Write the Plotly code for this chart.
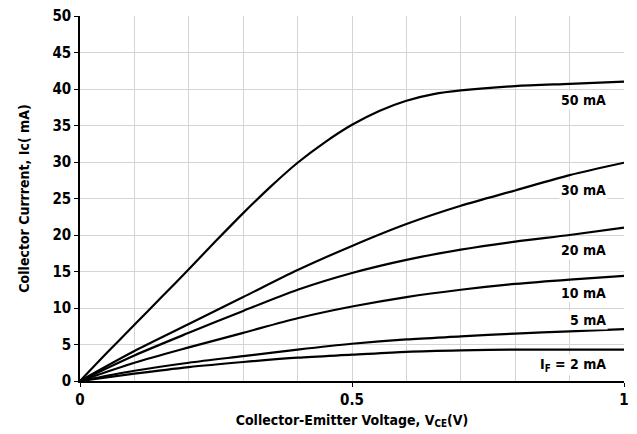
import plotly.graph_objects as go

# 50 mA curve read at finer steps
vce_50 = [0, 0.05, 0.1, 0.15, 0.2, 0.25, 0.3, 0.35, 0.4, 0.45, 0.5, 0.55, 0.6, 0.65, 0.7, 0.8, 0.9, 1.0]
ic_50 = [0, 3.9, 7.7, 11.5, 15.3, 19.2, 23.0, 26.6, 29.9, 32.7, 35.1, 37.0, 38.4, 39.3, 39.8, 40.4, 40.7, 41.0]

vce = [0, 0.1, 0.2, 0.3, 0.4, 0.5, 0.6, 0.7, 0.8, 0.9, 1.0]
ic_30 = [0, 4.1, 7.8, 11.5, 15.2, 18.5, 21.5, 24.0, 26.1, 28.2, 29.9]
ic_20 = [0, 3.5, 6.6, 9.6, 12.5, 14.8, 16.6, 18.0, 19.1, 20.0, 21.0]
ic_10 = [0, 2.5, 4.6, 6.6, 8.6, 10.2, 11.5, 12.5, 13.3, 13.9, 14.4]
ic_5 = [0, 1.4, 2.5, 3.4, 4.3, 5.1, 5.7, 6.1, 6.5, 6.8, 7.1]
ic_2 = [0, 1.0, 1.9, 2.6, 3.2, 3.6, 4.0, 4.2, 4.3, 4.3, 4.3]

xs = [vce_50, vce, vce, vce, vce, vce]
series = [ic_50, ic_30, ic_20, ic_10, ic_5, ic_2]
labels = ["50 mA", "30 mA", "20 mA", "10 mA", "5 mA", "I<sub>F</sub> = 2 mA"]
label_x = [0.971, 0.971, 0.971, 0.971, 0.971, 0.971]
label_y = [38.5, 26.2, 17.9, 12.0, 8.4, 2.2]

FONT = "DejaVu Sans Condensed, DejaVu Sans, sans-serif"

fig = go.Figure()
for x, s in zip(xs, series):
    fig.add_trace(go.Scatter(x=x, y=s, mode="lines",
                             line=dict(color="black", width=2.2, shape="spline", smoothing=0.8),
                             showlegend=False, hoverinfo="skip"))

for t, lx, ly in zip(labels, label_x, label_y):
    fig.add_annotation(x=lx, y=ly, text="<b>" + t + "</b>", showarrow=False,
                       xanchor="right", yanchor="middle", bgcolor="white",
                       font=dict(family=FONT, size=14, color="black"), borderpad=1)

fig.update_layout(
    width=637, height=434,
    margin=dict(l=80, r=13, t=16, b=53),
    paper_bgcolor="white", plot_bgcolor="white",
    font=dict(family=FONT, size=14, color="black"),
    xaxis=dict(range=[0, 1], tickvals=[0, 0.5, 1], ticktext=["0", "0.5", "1"],
               automargin=False,
               showgrid=True, gridcolor="#d4d4d4", gridwidth=1,
               minor=dict(tickvals=[0.1, 0.2, 0.3, 0.4, 0.6, 0.7, 0.8, 0.9], showgrid=True,
                          gridcolor="#d4d4d4", gridwidth=1),
               showline=True, linecolor="black", linewidth=1.5, ticks="outside", ticklen=4,
               tickcolor="black", zeroline=False,
               tickfont=dict(family=FONT, size=15, color="black", weight="bold"),
               title=dict(text="<b>Collector-Emitter Voltage, V<sub>CE</sub>(V)</b>",
                          font=dict(family=FONT, size=14), standoff=7)),
    yaxis=dict(range=[0, 50], dtick=5, automargin=False,
               showgrid=True, gridcolor="#d4d4d4", gridwidth=1,
               showline=True, linecolor="black", linewidth=1.5, ticks="outside", ticklen=4,
               tickcolor="black", zeroline=False,
               tickfont=dict(family=FONT, size=15, color="black", weight="bold"),
               title=dict(text="<b>Collector Currrent, Ic( mA)</b>",
                          font=dict(family=FONT, size=14), standoff=20)),
)

fig.write_html("out.html", config={"displayModeBar": False},
               post_script="document.body.style.margin='0';")
